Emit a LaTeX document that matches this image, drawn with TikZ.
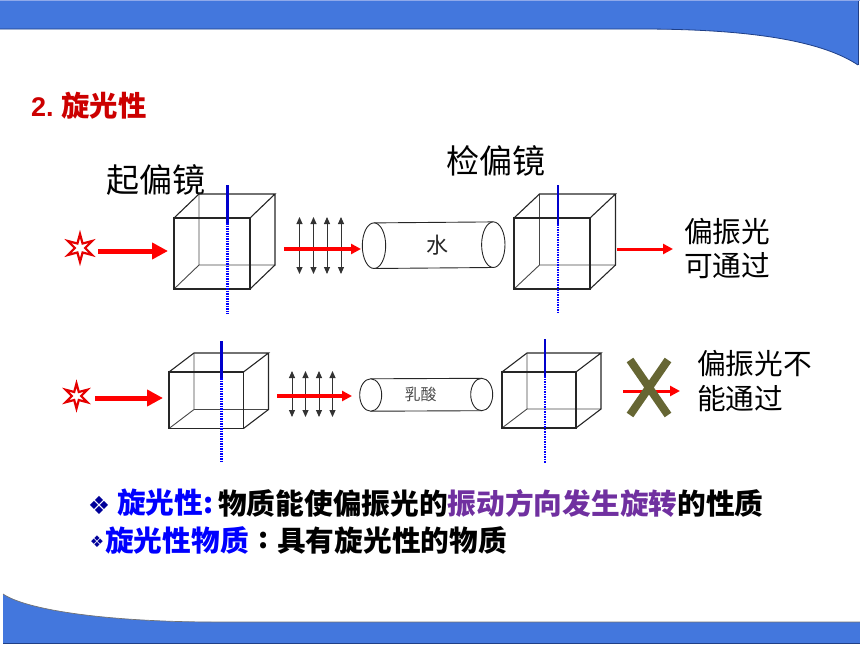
\documentclass[tikz,border=0pt]{standalone}
\usepackage{fontspec}
\setmainfont{Noto Sans CJK SC}
\newfontfamily\symfont{DejaVu Sans}
\newfontfamily\latinfont{Liberation Sans}
\usetikzlibrary{arrows.meta,shapes.geometric}
\definecolor{barblue}{HTML}{4377DD}
\definecolor{barlight}{HTML}{8FA9EA}
\definecolor{bardark}{HTML}{1F3F86}
\definecolor{olivex}{HTML}{666633}
\definecolor{axisblue}{HTML}{0000CC}
\definecolor{purpletxt}{HTML}{7030A0}
\definecolor{titlered}{HTML}{CC0000}
\tikzset{
  edge/.style={line width=1.1pt,draw=black!85},
  inner edge/.style={line width=0.9pt,draw=black!72},
  bigray/.style={draw=red,line width=5pt,-{Triangle[length=16pt,width=16pt]}},
  midray/.style={draw=red,line width=3.5pt,-{Triangle[length=10pt,width=10pt]}},
  vib/.style={draw=black!80,line width=0.9pt,{Triangle[length=7pt,width=6pt]}-{Triangle[length=7pt,width=6pt]}},
  lbl/.style={inner sep=0pt,anchor=west,font=\fontsize{28.7}{28.7}\selectfont},
  tube/.style={draw=black!85,line width=0.9pt,fill=white},
  bodytxt/.style={inner sep=0pt,anchor=west,font=\fontsize{28.7}{28.7}\selectfont\bfseries},
  sun/.style={star,star points=6,star point ratio=2.7,draw=red!90!black,line width=2.2pt,fill=white,inner sep=0pt,minimum size=28pt},
}
\newcommand{\polarcube}[7]{% name, x0,x1,y0,y1 (front), dx,dy
  \coordinate (#1fa) at (#2,#4); \coordinate (#1fb) at (#3,#4);
  \coordinate (#1fc) at (#3,#5); \coordinate (#1fd) at (#2,#5);
  \coordinate (#1ba) at (#2+#6,#4-#7); \coordinate (#1bb) at (#3+#6,#4-#7);
  \coordinate (#1bc) at (#3+#6,#5-#7); \coordinate (#1bd) at (#2+#6,#5-#7);
  \draw[inner edge] (#1bd) -- (#1ba) (#1bd) -- (#1bc) (#1bd) -- (#1fd);
  \draw[edge] (#1fa) -- (#1fb) -- (#1fc) -- (#1fd) -- cycle;
  \draw[edge] (#1fa) -- (#1ba) -- (#1bb) -- (#1fb) (#1bb) -- (#1bc) -- (#1fc);
}
\newcommand{\polaraxis}[5]{% name,x,ytop,ymid,ybot
  \coordinate (#1t) at (#2,#3); \coordinate (#1m) at (#2,#4); \coordinate (#1e) at (#2,#5);
  \draw[axisblue,line width=2.6pt] (#1t) -- (#1m);
  \draw[blue,line width=2.6pt,dash pattern=on 1.5pt off 1pt] (#1m) -- (#1e);
}
\newcommand{\tubeshape}[7]{% name, xl,yl, xr,yr, rx, ry
  \coordinate (#1lt) at (#2,#3-#7); \coordinate (#1lb) at (#2,#3+#7);
  \coordinate (#1rt) at (#4,#5-#7); \coordinate (#1rb) at (#4,#5+#7);
  \draw[tube] (#1lt) -- (#1rt) (#1lb) -- (#1rb);
  \draw[tube] (#2,#3) ellipse[x radius=#6,y radius=#7];
  \draw[tube] (#4,#5) ellipse[x radius=#6,y radius=#7];
}
\begin{document}
\begin{tikzpicture}[x=1pt,y=-1pt]
\useasboundingbox (0,0) rectangle (860,645);
% bars
\fill[barblue] (0,1) -- (858,1) -- (858,65) .. controls (825,43) and (760,29) .. (640,29) -- (0,29) -- cycle;
\draw[bardark,line width=0.8pt] (858,65) .. controls (825,43) and (760,29) .. (640,29) -- (0,29);
\draw[barlight,line width=1.2pt] (0,0.6) -- (860,0.6);
\draw[bardark,line width=0.8pt] (858.5,1) -- (858.5,65);
\fill[barblue] (3,594) .. controls (30,612) and (120,622) .. (215,622) -- (860,622) -- (860,643) -- (3,643) -- cycle;
\draw[black!55,line width=0.7pt] (3,594) .. controls (30,612) and (120,622) .. (215,622) -- (860,622);
\draw[bardark,line width=1pt] (3,643.5) -- (860,643.5);
% title
\node[inner sep=0pt,anchor=west,text=titlered,font=\fontsize{27}{27}\selectfont] (titlea) at (31,107) {\latinfont\bfseries 2.};
\node[inner sep=0pt,anchor=west,text=titlered,font=\fontsize{28.4}{28.4}\selectfont\bfseries] (titleb) at (61,106) {旋光性};
\node[lbl,font=\fontsize{33}{33}\selectfont] (polarizer) at (106,180) {起偏镜};
\node[lbl,font=\fontsize{33}{33}\selectfont] (analyzer) at (446,161) {检偏镜};
% row 1
\node[sun] (s1) at (80,248) {};
\coordinate (a1s) at (98,251); \coordinate (a1e) at (168,251);
\draw[bigray] (a1s) -- (a1e);
\polarcube{c1}{174}{250}{218}{289}{25}{24}
\polaraxis{p1}{227.5}{185}{223}{314}
\foreach \x/\n in {299.5/a,313.5/b,327/c,341/d}{
  \coordinate (v1\n t) at (\x,217); \coordinate (v1\n b) at (\x,274);
  \draw[vib] (v1\n t) -- (v1\n b);
}
\tubeshape{w}{374}{245.7}{493.3}{244.7}{11.7}{22.8}
\coordinate (r1s) at (284,249); \coordinate (r1e) at (361,249);
\draw[midray] (r1s) -- (r1e);
\node[inner sep=0pt,text=black!85,font=\fontsize{22}{22}\selectfont] (water) at (437.7,245) {水};
\polarcube{c2}{514}{590}{218}{289}{25.5}{24}
\polaraxis{p2}{558}{185}{224}{314}
\coordinate (o1s) at (617,249); \coordinate (o1e) at (673,249);
\draw[draw=red,line width=3pt,-{Triangle[length=10pt,width=10pt]}] (o1s) -- (o1e);
\node[lbl] (t1) at (684,232) {偏振光};
\node[lbl] (t2) at (684,266) {可通过};
% row 2
\node[sun,minimum size=25pt] (s2) at (76.5,396) {};
\coordinate (a2s) at (95,398); \coordinate (a2e) at (163,398);
\draw[bigray] (a2s) -- (a2e);
\polarcube{c3}{169}{243.5}{372}{428.5}{25}{19}
\polaraxis{p3}{221.5}{341}{378}{463}
\foreach \x/\n in {292/a,305.5/b,319/c,332.5/d}{
  \coordinate (v2\n t) at (\x,371); \coordinate (v2\n b) at (\x,417);
  \draw[vib] (v2\n t) -- (v2\n b);
}
\tubeshape{l}{370.7}{395}{481.7}{394.5}{11}{16.2}
\coordinate (r2s) at (277,396); \coordinate (r2e) at (352,396);
\draw[midray] (r2s) -- (r2e);
\node[inner sep=0pt,text=black!70,font=\fontsize{16}{16}\selectfont] (lactic) at (420.7,394.3) {乳酸};
\polarcube{c4}{502}{576}{372}{428}{25}{19}
\polaraxis{p4}{545}{339}{376}{463}
\coordinate (o2s) at (623,391); \coordinate (o2e) at (680,391);
\draw[draw=red,line width=3pt,-{Triangle[length=10pt,width=10pt]}] (o2s) -- (o2e);
\coordinate (xa) at (630,360); \coordinate (xb) at (668,415);
\coordinate (xc) at (668,360); \coordinate (xd) at (630,415);
\draw[olivex,line width=8pt] (xa) -- (xb) (xc) -- (xd);
\node[lbl] (t3) at (697,364) {偏振光不};
\node[lbl] (t4) at (697,399) {能通过};
% body text
\node[inner sep=0pt,anchor=center,text=blue!60!black,font=\symfont\fontsize{25}{25}\selectfont] (b1) at (99,505) {❖};
\node[bodytxt,text=blue] (l1a) at (117,503) {旋光性:};
\node[bodytxt] (l1b) at (218,503) {物质能使偏振光的\textcolor{purpletxt}{振动方向发生旋转}的性质};
\node[inner sep=0pt,anchor=center,text=blue!60!black,font=\symfont\fontsize{16}{16}\selectfont] (b2) at (97,542) {❖};
\node[bodytxt,text=blue] (l2a) at (105,540) {旋光性物质};
\node[bodytxt] (l2c) at (258,540) {:};
\node[bodytxt] (l2b) at (277,540) {具有旋光性的物质};
\end{tikzpicture}
\end{document}
